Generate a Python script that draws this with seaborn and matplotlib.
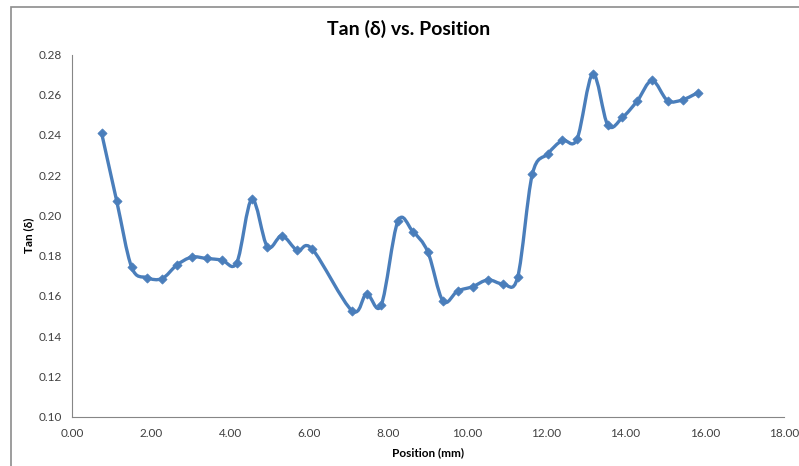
import numpy as np
import pandas as pd
import matplotlib
matplotlib.use('Agg')
import matplotlib.pyplot as plt
import seaborn as sns
from matplotlib.path import Path
from matplotlib.patches import PathPatch, Rectangle

# ========== data ==========
position_mm = [0.75, 1.13, 1.51, 1.89, 2.28, 2.65, 3.03, 3.41, 3.79, 4.17,
               4.55, 4.94, 5.31, 5.70, 6.08, 7.08, 7.45, 7.82, 8.24, 8.62,
               9.00, 9.38, 9.75, 10.13, 10.52, 10.90, 11.27, 11.64, 12.03, 12.40,
               12.77, 13.17, 13.55, 13.92, 14.30, 14.67, 15.06, 15.44, 15.83]
tan_delta = [0.2410, 0.2074, 0.1743, 0.1691, 0.1686, 0.1753, 0.1793, 0.1786, 0.1779, 0.1766,
             0.2081, 0.1845, 0.1899, 0.1826, 0.1832, 0.1527, 0.1610, 0.1554, 0.1970, 0.1920,
             0.1818, 0.1575, 0.1624, 0.1646, 0.1680, 0.1660, 0.1693, 0.2204, 0.2306, 0.2373,
             0.2379, 0.2704, 0.2449, 0.2487, 0.2571, 0.2671, 0.2571, 0.2575, 0.2611]
x_ticks = [0, 2, 4, 6, 8, 10, 12, 14, 16, 18]
y_ticks = [0.10, 0.12, 0.14, 0.16, 0.18, 0.20, 0.22, 0.24, 0.26, 0.28]

df = pd.DataFrame({'pos': position_mm, 'tan': tan_delta})

# ========== style ==========
sns.set_style('white')
plt.rcParams['font.family'] = ['Lato', 'DejaVu Sans']

line_color = '#4A7EBB'
axis_color = '#868686'
text_color = '#404040'

fig = plt.figure(figsize=(7.99, 4.66), dpi=100)
ax = fig.add_axes([0.090, 0.106, 0.891, 0.777])

# Excel style smoothed line (cubic bezier through the points)
pts = df[['pos', 'tan']].to_numpy()
n = len(pts)
verts = [pts[0]]
codes = [Path.MOVETO]
for i in range(n - 1):
    p0 = pts[i - 1] if i > 0 else pts[i]
    p1 = pts[i]
    p2 = pts[i + 1]
    p3 = pts[i + 2] if i + 2 < n else pts[i + 1]
    c1 = p1 + (p2 - p0) / 6.0
    c2 = p2 - (p3 - p1) / 6.0
    verts += [c1, c2, p2]
    codes += [Path.CURVE4] * 3
ax.add_patch(PathPatch(Path(verts, codes), facecolor='none', edgecolor=line_color,
                       lw=2.4, capstyle='round', joinstyle='round', zorder=2))

sns.scatterplot(data=df, x='pos', y='tan', marker='D', s=22, color=line_color,
                edgecolor=line_color, linewidth=0.5, ax=ax, zorder=3)

ax.set_xlim(0, 18)
ax.set_ylim(0.10, 0.28)
ax.set_xticks(x_ticks)
ax.set_yticks(y_ticks)
ax.set_xticklabels([f'{v:.2f}' for v in x_ticks])
ax.set_yticklabels([f'{v:.2f}' for v in y_ticks])
ax.tick_params(axis='both', direction='out', length=4, width=0.8, color=axis_color,
               labelsize=8.5, labelcolor=text_color, pad=4)
ax.tick_params(axis='y', pad=3)

for side in ['top', 'right']:
    ax.spines[side].set_visible(False)
for side in ['left', 'bottom']:
    ax.spines[side].set_color(axis_color)
    ax.spines[side].set_linewidth(0.8)

ax.set_xlabel('Position (mm)', fontsize=8.5, fontweight='bold', color='black', labelpad=6)
ax.set_ylabel('Tan (δ)', fontsize=8.5, fontweight='bold', color='black', labelpad=3)

fig.text(0.512, 0.938, 'Tan (δ) vs. Position', ha='center', va='center',
         fontsize=14, fontweight='bold', color='black')

# chart area border (partly cut off like the reference)
fig.add_artist(Rectangle((11 / 799, -0.05), 1.2, 1 - 7 / 466 + 0.05,
                         transform=fig.transFigure, fill=False,
                         edgecolor='#8c8c8c', lw=1.2))

fig.savefig('out.png', dpi=100)
plt.close(fig)
